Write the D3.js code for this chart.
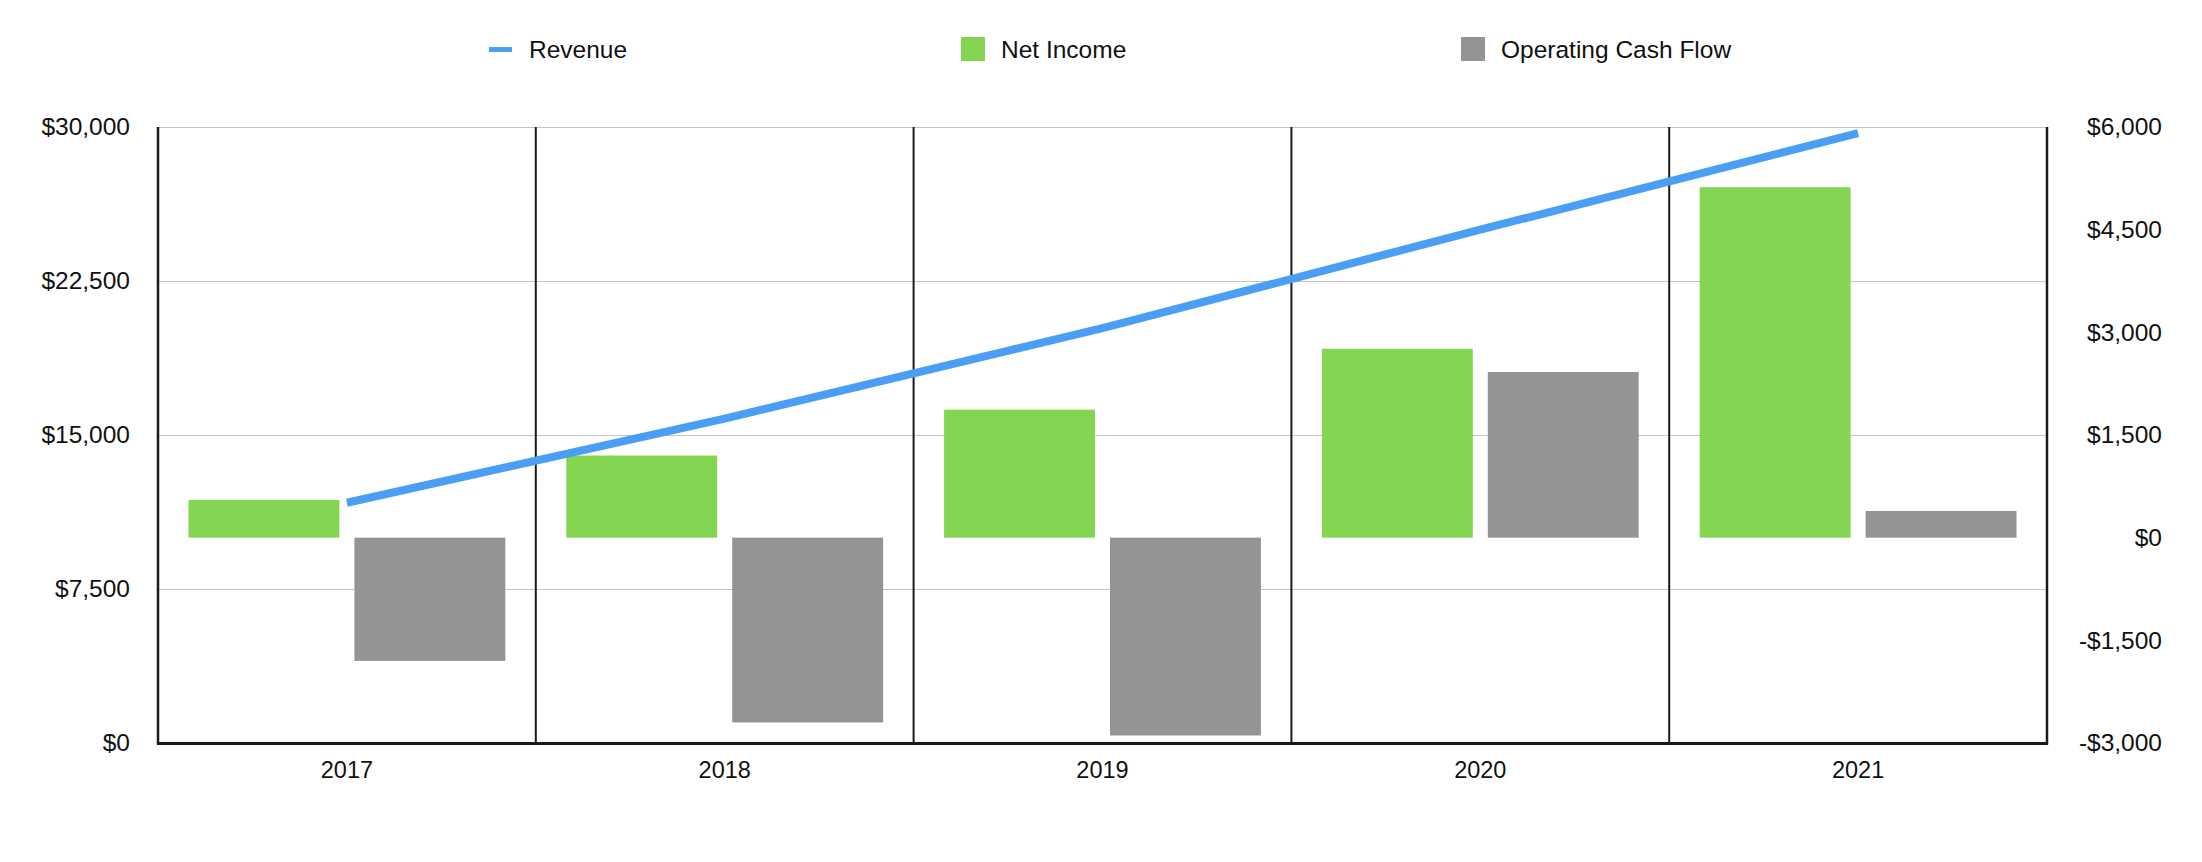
<!DOCTYPE html>
<html>
<head>
<meta charset="utf-8">
<script src="https://cdn.jsdelivr.net/npm/d3@7"></script>
<style>
  html, body { margin: 0; padding: 0; background: #fff; }
  svg { display: block; font-family: "Liberation Sans", Arial, Helvetica, sans-serif; }
</style>
</head>
<body>
<svg id="chart" width="2202" height="862"></svg>
<script>
// ---- Data ----
const years = ["2017", "2018", "2019", "2020", "2021"];
const revenue = [11700, 15800, 20200, 25000, 29700];
const netIncome = [550, 1200, 1870, 2760, 5120];
const operatingCashFlow = [-1800, -2700, -2890, 2420, 390];
const leftTicks = [0, 7500, 15000, 22500, 30000];
const rightTicks = [-3000, -1500, 0, 1500, 3000, 4500, 6000];
const seriesNames = ["Revenue", "Net Income", "Operating Cash Flow"];

// ---- Layout ----
const plot = { left: 158, right: 2047, top: 127, bottom: 743 };
const colors = { rev: "#4a9ff5", ni: "#83d552", ocf: "#949494" };
const FONT = '"Liberation Sans", Arial, sans-serif';

const svg = d3.select("#chart");

const x = d3.scaleBand().domain(years).range([plot.left, plot.right]).padding(0);
const xi = d3.scaleBand().domain(["ni", "ocf"]).range([0, x.bandwidth()])
  .paddingInner(0.0904).paddingOuter(0.1837);
const yL = d3.scaleLinear().domain([0, 30000]).range([plot.bottom, plot.top]);
const yR = d3.scaleLinear().domain([-3000, 6000]).range([plot.bottom, plot.top]);

const fmt = d3.format(",");
const money = v => (v < 0 ? "-$" : "$") + fmt(Math.abs(v));

// Horizontal gridlines
svg.append("g").selectAll("line").data(leftTicks).join("line")
  .attr("x1", plot.left).attr("x2", plot.right)
  .attr("y1", d => yL(d) + 0.5).attr("y2", d => yL(d) + 0.5)
  .attr("stroke", "#c4c4c4").attr("stroke-width", 1.2);

// Vertical category separators
svg.append("g").selectAll("line").data(years.slice(1)).join("line")
  .attr("x1", d => x(d)).attr("x2", d => x(d))
  .attr("y1", plot.top).attr("y2", plot.bottom)
  .attr("stroke", "#1a1a1a").attr("stroke-width", 2);

// Bars
const barG = svg.append("g");
years.forEach((yr, i) => {
  const ni = netIncome[i], ocf = operatingCashFlow[i];
  barG.append("rect")
    .attr("x", x(yr) + xi("ni")).attr("width", xi.bandwidth())
    .attr("y", yR(Math.max(0, ni))).attr("height", Math.abs(yR(ni) - yR(0)))
    .attr("fill", colors.ni);
  barG.append("rect")
    .attr("x", x(yr) + xi("ocf")).attr("width", xi.bandwidth())
    .attr("y", yR(Math.max(0, ocf))).attr("height", Math.abs(yR(ocf) - yR(0)))
    .attr("fill", colors.ocf);
});

// Revenue line
const line = d3.line()
  .x((d, i) => x(years[i]) + x.bandwidth() / 2)
  .y(d => yL(d));
svg.append("path").datum(revenue)
  .attr("d", line)
  .attr("fill", "none").attr("stroke", colors.rev)
  .attr("stroke-width", 8).attr("stroke-linejoin", "round");

// Axes frame lines
svg.append("line").attr("x1", plot.left).attr("x2", plot.left)
  .attr("y1", plot.top).attr("y2", plot.bottom + 1.5)
  .attr("stroke", "#1a1a1a").attr("stroke-width", 2.5);
svg.append("line").attr("x1", plot.right).attr("x2", plot.right)
  .attr("y1", plot.top).attr("y2", plot.bottom + 1.5)
  .attr("stroke", "#1a1a1a").attr("stroke-width", 2.5);
svg.append("line").attr("x1", plot.left - 1).attr("x2", plot.right + 1)
  .attr("y1", plot.bottom + 0.5).attr("y2", plot.bottom + 0.5)
  .attr("stroke", "#1a1a1a").attr("stroke-width", 3);

// Left axis labels
const leftAxis = d3.axisLeft(yL).tickValues(leftTicks).tickFormat(money).tickSize(0).tickPadding(28);
const gL = svg.append("g").attr("transform", `translate(${plot.left},0)`).call(leftAxis);
gL.select(".domain").remove();
gL.selectAll("text").attr("font-size", 24.5).attr("fill", "#111").attr("font-family", FONT);

// Right axis labels (right aligned)
const rightAxis = d3.axisRight(yR).tickValues(rightTicks).tickFormat(money).tickSize(0).tickPadding(115);
const gR = svg.append("g").attr("transform", `translate(${plot.right},0)`).call(rightAxis);
gR.select(".domain").remove();
gR.selectAll("text").attr("text-anchor", "end").attr("font-size", 24.5).attr("fill", "#111")
  .attr("font-family", FONT);

// Bottom axis labels
const bottomAxis = d3.axisBottom(x).tickSize(0).tickPadding(18);
const gB = svg.append("g").attr("transform", `translate(0,${plot.bottom})`).call(bottomAxis);
gB.select(".domain").remove();
gB.selectAll("text").attr("font-size", 23.5).attr("fill", "#111").attr("font-family", FONT);

// Legend
const legend = svg.append("g").attr("font-size", 24.5).attr("fill", "#111").attr("font-family", FONT);
const legendItems = [
  { name: seriesNames[0], x: 489, type: "line", color: colors.rev },
  { name: seriesNames[1], x: 961, type: "rect", color: colors.ni },
  { name: seriesNames[2], x: 1461, type: "rect", color: colors.ocf }
];
legendItems.forEach(it => {
  if (it.type === "line") {
    legend.append("rect").attr("x", it.x).attr("y", 47).attr("width", 23).attr("height", 5).attr("fill", it.color);
  } else {
    legend.append("rect").attr("x", it.x).attr("y", 37).attr("width", 24).attr("height", 24).attr("fill", it.color);
  }
  legend.append("text").attr("x", it.x + 40).attr("y", 58).text(it.name);
});
</script>
</body>
</html>
